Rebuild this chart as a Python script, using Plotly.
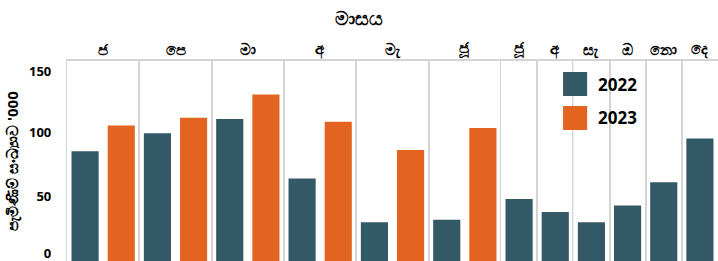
import plotly.graph_objects as go
from plotly.subplots import make_subplots

# ---- data ----
months = ["ජ", "පෙ", "මා", "අ", "මැ", "ජූ", "ජූ", "අ", "සැ", "ඔ", "නො", "දෙ"]
years = ["2022", "2023"]
values_2022 = [85, 99, 110, 64, 30, 32, 48, 38, 30, 43, 61, 95]
values_2023 = [105, 111, 129, 108, 86, 103, None, None, None, None, None, None]
y_ticks = [0, 50, 100, 150]
y_tick_text = ["0", "50", "100", "150"]

title_text = "මාසය"
y_title = "පැමිණීම් සංඛ්‍යාව '000"

colors = {"2022": "#335866", "2023": "#e36420"}
FONT = "Noto Sans, DejaVu Sans, sans-serif"

series = {"2022": values_2022, "2023": values_2023}

# column widths follow the number of bars in each month
n_bars = [sum(1 for y in years if series[y][i] is not None) for i in range(len(months))]

fig = make_subplots(rows=1, cols=len(months), shared_yaxes=True,
                    horizontal_spacing=0, column_widths=n_bars,
                    subplot_titles=months)

for i, m in enumerate(months):
    cats = [y for y in years if series[y][i] is not None]
    for y in cats:
        fig.add_trace(go.Bar(x=[y], y=[series[y][i]], name=y,
                             marker=dict(color=colors[y], line=dict(width=0)),
                             showlegend=False, hoverinfo="y"),
                      row=1, col=i + 1)
    fig.update_xaxes(type="category", categoryorder="array", categoryarray=cats,
                     showticklabels=False, showgrid=False, zeroline=False,
                     side="top", showline=True, linecolor="#d4d4d4", linewidth=1.5,
                     mirror=False, row=1, col=i + 1)
    fig.update_yaxes(showline=True, mirror=True, linecolor="#d4d4d4", linewidth=1.2,
                     showgrid=False, zeroline=False, range=[0, 155],
                     row=1, col=i + 1)

# flush-style tick labels at the ends of the axis
flush = {0: 6, 150: -3}
tick_pos = [v + flush.get(v, 0) for v in y_ticks]
fig.update_yaxes(tickmode="array", tickvals=tick_pos, ticktext=y_tick_text,
                 ticks="", ticklabelstandoff=12, ticklabeloverflow="allow",
                 tickfont=dict(family=FONT, size=13, color="#000", weight="bold"),
                 title=dict(text=y_title, standoff=6,
                            font=dict(family=FONT, size=15, color="#000", weight="bold")),
                 row=1, col=1)

for ann in fig.layout.annotations:
    ann.font = dict(family=FONT, size=15, color="#000", weight="bold")
    ann.yshift = 0

# manual legend with large swatches
legend_rows = [("2022", 0.945, 0.825), ("2023", 0.775, 0.655)]
for name, top, bot in legend_rows:
    fig.add_shape(type="rect", xref="paper", yref="paper",
                  x0=0.762, x1=0.799, y0=bot, y1=top,
                  fillcolor=colors[name], line=dict(width=0), layer="above")
    fig.add_annotation(xref="paper", yref="paper", x=0.812, y=(top + bot) / 2,
                       text=name, showarrow=False, xanchor="left", yanchor="middle",
                       font=dict(family=FONT, size=17, color="#000", weight="bold"))

fig.update_layout(
    width=718, height=261,
    margin=dict(l=67, r=0, t=61, b=0),
    barmode="overlay", bargap=0.25,
    plot_bgcolor="white", paper_bgcolor="white",
    showlegend=False,
    title=dict(text=title_text, xref="container", x=0.5, xanchor="center",
               yref="container", y=0.93, yanchor="middle",
               font=dict(family=FONT, size=19, color="#000", weight="bold")),
)

fig.write_html("out.html", config={"displayModeBar": False},
               post_script="document.body.style.margin='0';")
